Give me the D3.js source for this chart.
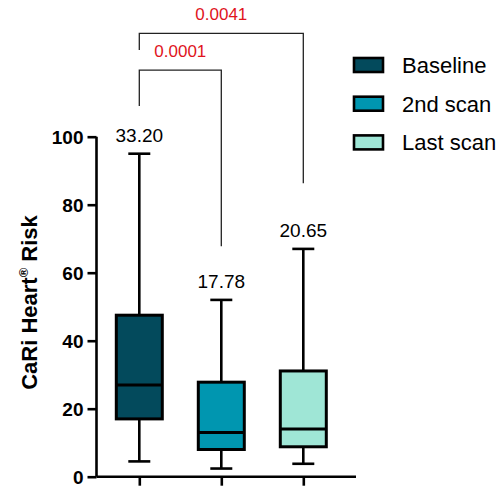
<!DOCTYPE html>
<html>
<head>
<meta charset="utf-8">
<script src="https://cdn.jsdelivr.net/npm/d3@7"></script>
<style>
  body { margin: 0; background: #fff; }
  svg text { font-family: "Liberation Sans", Arial, sans-serif; }
</style>
</head>
<body>
<div id="chart"></div>
<script>
// 数据
const groups = ["Baseline", "2nd scan", "Last scan"];
const colors = ["#034a5c", "#0096b0", "#9fe6d6"];
const whiskerMin = [4.5, 2.4, 3.8];
const q1 = [17.0, 8.0, 8.8];
const median = [27.0, 13.0, 14.0];
const q3 = [47.5, 27.8, 31.1];
const whiskerMax = [95, 52, 67];
const meanLabels = ["33.20", "17.78", "20.65"];
const yTicks = [0, 20, 40, 60, 80, 100];
const comparisons = [
  { a: 0, b: 1, p: "0.0001" },
  { a: 0, b: 2, p: "0.0041" }
];

const width = 502, height = 486;
const svg = d3.select("#chart").append("svg")
  .attr("width", width).attr("height", height);

const y = d3.scaleLinear().domain([0, 100]).range([476.7, 136.7]);
const x = d3.scalePoint().domain(groups).range([139.3, 303.3]);
const boxW = 46, capW = 22;

// y 轴
const yAxis = svg.append("g")
  .attr("transform", "translate(96.5,0)")
  .call(d3.axisLeft(y).tickValues(yTicks).tickSize(9).tickPadding(4));
yAxis.select(".domain").attr("stroke", "#000").attr("stroke-width", 2.6)
  .attr("d", `M0,${y(100)}V${y(0)}`);
yAxis.selectAll(".tick line").attr("stroke", "#000").attr("stroke-width", 2.6);
yAxis.selectAll(".tick text").attr("fill", "#000")
  .style("font-size", "19px").style("font-weight", "bold")
  .attr("dy", "0.34em");

// x 轴
const xAxis = svg.append("g")
  .attr("transform", `translate(0,${y(0)})`)
  .call(d3.axisBottom(x).tickSize(9).tickFormat(""));
xAxis.select(".domain").attr("stroke", "#000").attr("stroke-width", 2.6)
  .attr("d", "M96.5,0H356");
xAxis.selectAll(".tick line").attr("stroke", "#000").attr("stroke-width", 2.6);

// y 轴标题
const title = svg.append("text")
  .attr("transform", `translate(37,${(215 + 390) / 2}) rotate(-90)`)
  .attr("text-anchor", "middle")
  .style("font-size", "22px").style("font-weight", "bold");
title.append("tspan").text("CaRi Heart");
title.append("tspan").text("®").style("font-size", "13px").attr("dy", "-9");
title.append("tspan").text(" Risk").attr("dy", "9");

// 箱线图
const boxes = svg.append("g").selectAll("g").data(groups).join("g")
  .attr("transform", (d) => `translate(${x(d)},0)`);

boxes.append("line")
  .attr("y1", (d, i) => y(whiskerMin[i])).attr("y2", (d, i) => y(whiskerMax[i]))
  .attr("stroke", "#000").attr("stroke-width", 2.6);
boxes.append("line")
  .attr("x1", -capW / 2).attr("x2", capW / 2)
  .attr("y1", (d, i) => y(whiskerMax[i])).attr("y2", (d, i) => y(whiskerMax[i]))
  .attr("stroke", "#000").attr("stroke-width", 2.6);
boxes.append("line")
  .attr("x1", -capW / 2).attr("x2", capW / 2)
  .attr("y1", (d, i) => y(whiskerMin[i])).attr("y2", (d, i) => y(whiskerMin[i]))
  .attr("stroke", "#000").attr("stroke-width", 2.6);
boxes.append("rect")
  .attr("x", -boxW / 2).attr("width", boxW)
  .attr("y", (d, i) => y(q3[i])).attr("height", (d, i) => y(q1[i]) - y(q3[i]))
  .attr("fill", (d, i) => colors[i])
  .attr("stroke", "#000").attr("stroke-width", 3);
boxes.append("line")
  .attr("x1", -boxW / 2).attr("x2", boxW / 2)
  .attr("y1", (d, i) => y(median[i])).attr("y2", (d, i) => y(median[i]))
  .attr("stroke", "#000").attr("stroke-width", 3);
boxes.append("text")
  .attr("y", (d, i) => y(whiskerMax[i]) - 12)
  .attr("text-anchor", "middle")
  .style("font-size", "19px")
  .text((d, i) => meanLabels[i]);

// 显著性括号
const legTop = [y(119.6), y(130.4)];
const legStart = [y(109), y(125.5)];
const legEnd = [y(67.8), y(86.3)];
comparisons.forEach((c, k) => {
  const xa = x(groups[c.a]), xb = x(groups[c.b]);
  svg.append("path")
    .attr("d", `M${xa},${legStart[k]}V${legTop[k]}H${xb}V${legEnd[k]}`)
    .attr("fill", "none").attr("stroke", "#222").attr("stroke-width", 1.3);
  svg.append("text")
    .attr("x", (xa + xb) / 2).attr("y", legTop[k] - 13)
    .attr("text-anchor", "middle")
    .attr("fill", "#e0141c")
    .style("font-size", "17px")
    .text(c.p);
});

// 图例
const legend = svg.append("g").selectAll("g").data(groups).join("g")
  .attr("transform", (d, i) => `translate(354,${65 + i * 38.7})`);
legend.append("rect")
  .attr("x", 0).attr("y", -7).attr("width", 29).attr("height", 14)
  .attr("fill", (d, i) => colors[i])
  .attr("stroke", "#000").attr("stroke-width", 2.6);
legend.append("text")
  .attr("x", 48).attr("dy", "0.36em")
  .style("font-size", "22px")
  .text((d) => d);
</script>
</body>
</html>
